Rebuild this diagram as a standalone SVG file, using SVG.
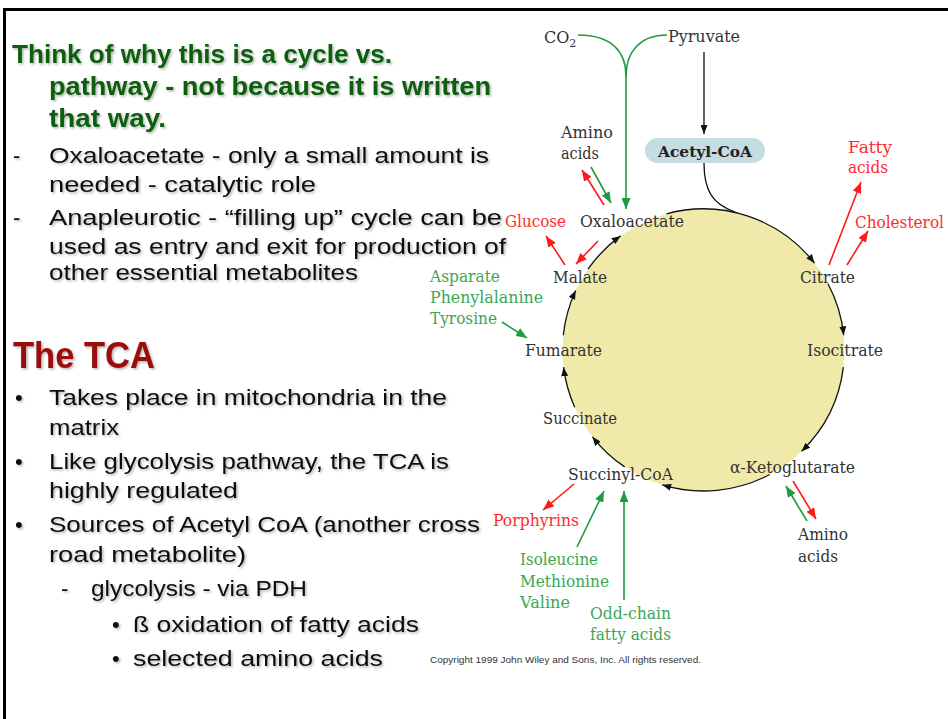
<svg xmlns="http://www.w3.org/2000/svg" width="948" height="719" viewBox="0 0 948 719">
<style>
.hd{font-family:"Liberation Sans","Open Sans",sans-serif;font-weight:bold;font-size:25px;fill:#0b5e10}
.bd{font-family:"Liberation Sans","Open Sans",sans-serif;font-size:22px;fill:#111}
.tca{font-family:"Liberation Sans","Open Sans",sans-serif;font-weight:bold;font-size:37px;fill:#9a0a0a}
.lb{font-family:"DejaVu Serif","Liberation Serif",serif;font-size:16px;fill:#333}
.rd{font-family:"DejaVu Serif","Liberation Serif",serif;font-size:16px;fill:#ff2a2a}
.gn{font-family:"DejaVu Serif","Liberation Serif",serif;font-size:16px;fill:#3aa655}
.ac{font-family:"DejaVu Serif","Liberation Serif",serif;font-size:15px;font-weight:bold;fill:#222}
.cp{font-family:"Liberation Sans",sans-serif;font-size:9px;fill:#333}
.cyc{fill:none;stroke:#111;stroke-width:1.3;marker-end:url(#ak)}
.ra{fill:none;stroke:#ff1a1a;stroke-width:1.6;marker-end:url(#ar)}
.ga{fill:none;stroke:#1f9a3e;stroke-width:1.6;marker-end:url(#ag)}
</style>
<defs>
<filter id="sh" x="-5%" y="-20%" width="110%" height="150%">
<feDropShadow dx="1.5" dy="1.5" stdDeviation="1" flood-color="#000" flood-opacity="0.3"/>
</filter>
<marker id="ak" markerUnits="userSpaceOnUse" markerWidth="9" markerHeight="7" refX="9" refY="3.5" orient="auto"><path d="M0,0 L9,3.5 L0,7 z" fill="#111"/></marker>
<marker id="ar" markerUnits="userSpaceOnUse" markerWidth="11" markerHeight="9" refX="11" refY="4.5" orient="auto"><path d="M0,0 L11,4.5 L0,9 z" fill="#ff1a1a"/></marker>
<marker id="ag" markerUnits="userSpaceOnUse" markerWidth="11" markerHeight="9" refX="11" refY="4.5" orient="auto"><path d="M0,0 L11,4.5 L0,9 z" fill="#1f9a3e"/></marker>
</defs>
<rect width="948" height="719" fill="#fff"/>
<path d="M3,9.5 H948 M4.5,9 V719" stroke="#000" stroke-width="3" fill="none"/>

<g id="left-text" filter="url(#sh)">
<text class="hd" x="12" y="63" textLength="380" lengthAdjust="spacingAndGlyphs">Think of why this is a cycle vs.</text>
<text class="hd" x="49" y="95" textLength="442" lengthAdjust="spacingAndGlyphs">pathway - not because it is written</text>
<text class="hd" x="49" y="127" textLength="117" lengthAdjust="spacingAndGlyphs">that way.</text>
<text class="bd" x="13" y="163">-</text>
<text class="bd" x="49" y="163" textLength="440" lengthAdjust="spacingAndGlyphs">Oxaloacetate - only a small amount is</text>
<text class="bd" x="49" y="192" textLength="267" lengthAdjust="spacingAndGlyphs">needed - catalytic role</text>
<text class="bd" x="13" y="225">-</text>
<text class="bd" x="49" y="225" textLength="453" lengthAdjust="spacingAndGlyphs">Anapleurotic - “filling up” cycle can be</text>
<text class="bd" x="49" y="254" textLength="457" lengthAdjust="spacingAndGlyphs">used as entry and exit for production of</text>
<text class="bd" x="49" y="280" textLength="309" lengthAdjust="spacingAndGlyphs">other essential metabolites</text>
<text class="tca" x="13" y="368" textLength="142" lengthAdjust="spacingAndGlyphs">The TCA</text>
<text class="bd" x="15" y="405">•</text>
<text class="bd" x="49" y="405" textLength="398" lengthAdjust="spacingAndGlyphs">Takes place in mitochondria in the</text>
<text class="bd" x="49" y="435" textLength="70" lengthAdjust="spacingAndGlyphs">matrix</text>
<text class="bd" x="15" y="469">•</text>
<text class="bd" x="49" y="469" textLength="400" lengthAdjust="spacingAndGlyphs">Like glycolysis pathway, the  TCA is</text>
<text class="bd" x="49" y="498" textLength="189" lengthAdjust="spacingAndGlyphs">highly regulated</text>
<text class="bd" x="15" y="532">•</text>
<text class="bd" x="49" y="532" textLength="431" lengthAdjust="spacingAndGlyphs">Sources of Acetyl CoA (another cross</text>
<text class="bd" x="49" y="562" textLength="197" lengthAdjust="spacingAndGlyphs">road metabolite)</text>
<text class="bd" x="61" y="596">-</text>
<text class="bd" x="91" y="596" textLength="216" lengthAdjust="spacingAndGlyphs">glycolysis - via PDH</text>
<text class="bd" x="112" y="632">•</text>
<text class="bd" x="133" y="632" textLength="286" lengthAdjust="spacingAndGlyphs">ß oxidation of fatty acids</text>
<text class="bd" x="112" y="666">•</text>
<text class="bd" x="133" y="666" textLength="250" lengthAdjust="spacingAndGlyphs">selected amino acids</text>
</g>

<g id="cycle-circle">
<circle cx="703.5" cy="350" r="141" fill="#f0e9a9"/>
</g>

<g id="connectors">
<path class="cyc" d="M666.5,213.8 A141,141 0 0 1 814.6,263.2"/>
<path class="cyc" d="M828,283.8 A141,141 0 0 1 843.7,335.3"/>
<path class="cyc" d="M843.4,367.2 A141,141 0 0 1 801.5,451.4"/>
<path class="cyc" d="M769.7,474.5 A141,141 0 0 1 662.3,484.8"/>
<path class="cyc" d="M624.7,466.9 A141,141 0 0 1 592.4,436.8"/>
<path class="cyc" d="M574.7,407.3 A141,141 0 0 1 563.6,367.2"/>
<path class="cyc" d="M563.3,335.3 A141,141 0 0 1 575.7,290.4"/>
<path class="cyc" d="M588,269.1 A141,141 0 0 1 620.6,235.9"/>
<path class="cyc" d="M704,52 V134"/>
<path d="M704,163 C704,190 712,204 735,212" fill="none" stroke="#111" stroke-width="1.3"/>
<path d="M578,35 C612,35 626,52 626,76 M667,35 C640,35 626,52 626,76" fill="none" stroke="#1f9a3e" stroke-width="1.6"/>
<path class="ga" d="M626,74 V209"/>
<path class="ra" d="M604,205 L582,170"/>
<path class="ga" d="M591,167 L611,203"/>
<path class="ra" d="M565,265 L546,236"/>
<path class="ra" d="M598,241 L576,264"/>
<path class="ga" d="M502,322 L527,338"/>
<path class="ra" d="M829,265 L861,182"/>
<path class="ra" d="M847,265 L868,231"/>
<path class="ra" d="M574,484 L543,510"/>
<path class="ga" d="M577,547 L604,491"/>
<path class="ga" d="M624,600 V491"/>
<path class="ga" d="M807,521 L786,486"/>
<path class="ra" d="M793,481 L816,519"/>
</g>

<g id="n-co2"><text class="lb" x="544" y="43">CO<tspan dy="4" font-size="11">2</tspan></text></g>
<g id="n-pyruvate"><text class="lb" x="668" y="42" textLength="72" lengthAdjust="spacingAndGlyphs">Pyruvate</text></g>
<g id="n-acetylcoa">
<rect x="645" y="138" width="120" height="25" rx="12.5" fill="#c6dce3"/>
<text class="ac" x="658" y="157" textLength="94" lengthAdjust="spacingAndGlyphs">Acetyl-CoA</text>
</g>
<g id="n-amino1"><text class="lb" x="561" y="138" textLength="52" lengthAdjust="spacingAndGlyphs">Amino</text><text class="lb" x="561" y="159" textLength="38" lengthAdjust="spacingAndGlyphs">acids</text></g>
<g id="n-glucose"><text class="rd" x="505" y="227" textLength="61" lengthAdjust="spacingAndGlyphs">Glucose</text></g>
<g id="n-oxaloacetate"><text class="lb" x="580" y="227" textLength="104" lengthAdjust="spacingAndGlyphs">Oxaloacetate</text></g>
<g id="n-malate"><text class="lb" x="553" y="283" textLength="54" lengthAdjust="spacingAndGlyphs">Malate</text></g>
<g id="n-asp"><text class="gn" x="430" y="282" textLength="70" lengthAdjust="spacingAndGlyphs">Asparate</text><text class="gn" x="430" y="303" textLength="113" lengthAdjust="spacingAndGlyphs">Phenylalanine</text><text class="gn" x="430" y="324" textLength="67" lengthAdjust="spacingAndGlyphs">Tyrosine</text></g>
<g id="n-fumarate"><text class="lb" x="525" y="356" textLength="77" lengthAdjust="spacingAndGlyphs">Fumarate</text></g>
<g id="n-succinate"><text class="lb" x="543" y="424" textLength="74" lengthAdjust="spacingAndGlyphs">Succinate</text></g>
<g id="n-citrate"><text class="lb" x="800" y="283" textLength="55" lengthAdjust="spacingAndGlyphs">Citrate</text></g>
<g id="n-isocitrate"><text class="lb" x="807" y="356" textLength="76" lengthAdjust="spacingAndGlyphs">Isocitrate</text></g>
<g id="n-fatty"><text class="rd" x="848" y="153" textLength="44" lengthAdjust="spacingAndGlyphs">Fatty</text><text class="rd" x="848" y="173" textLength="40" lengthAdjust="spacingAndGlyphs">acids</text></g>
<g id="n-cholesterol"><text class="rd" x="855" y="228" textLength="89" lengthAdjust="spacingAndGlyphs">Cholesterol</text></g>
<g id="n-akg"><text class="lb" x="730" y="473" textLength="125" lengthAdjust="spacingAndGlyphs">α-Ketoglutarate</text></g>
<g id="n-succinylcoa"><text class="lb" x="568" y="480" textLength="105" lengthAdjust="spacingAndGlyphs">Succinyl-CoA</text></g>
<g id="n-porphyrins"><text class="rd" x="493" y="526" textLength="86" lengthAdjust="spacingAndGlyphs">Porphyrins</text></g>
<g id="n-ile"><text class="gn" x="520" y="565" textLength="78" lengthAdjust="spacingAndGlyphs">Isoleucine</text><text class="gn" x="520" y="587" textLength="89" lengthAdjust="spacingAndGlyphs">Methionine</text><text class="gn" x="520" y="608" textLength="50" lengthAdjust="spacingAndGlyphs">Valine</text></g>
<g id="n-oddchain"><text class="gn" x="590" y="619" textLength="81" lengthAdjust="spacingAndGlyphs">Odd-chain</text><text class="gn" x="590" y="640" textLength="81" lengthAdjust="spacingAndGlyphs">fatty acids</text></g>
<g id="n-amino2"><text class="lb" x="798" y="540" textLength="50" lengthAdjust="spacingAndGlyphs">Amino</text><text class="lb" x="798" y="562" textLength="40" lengthAdjust="spacingAndGlyphs">acids</text></g>
<g id="copyright"><text class="cp" x="430" y="663" textLength="271" lengthAdjust="spacingAndGlyphs">Copyright 1999 John Wiley and Sons, Inc. All rights reserved.</text></g>
</svg>
